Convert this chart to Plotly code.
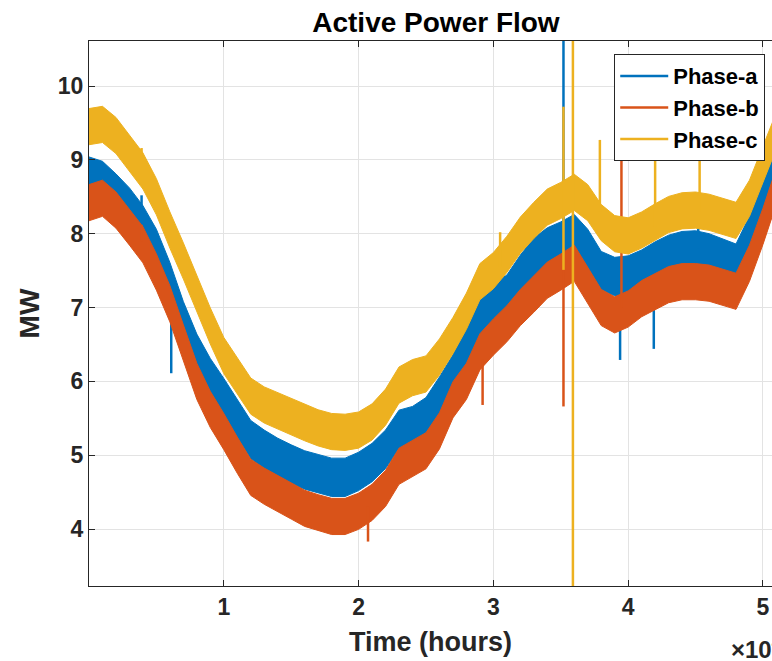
import plotly.graph_objects as go

# ---------------- data ----------------
time_grid = [0.0, 0.1, 0.2, 0.3, 0.4, 0.5, 0.6, 0.7, 0.8, 0.9,
             1.0, 1.1, 1.2, 1.3, 1.4, 1.5, 1.6, 1.7, 1.8, 1.9,
             2.0, 2.1, 2.2, 2.3, 2.4, 2.5, 2.6, 2.7, 2.8, 2.9,
             3.0, 3.1, 3.2, 3.3, 3.4, 3.5, 3.6, 3.7, 3.8, 3.9,
             4.0, 4.1, 4.2, 4.3, 4.4, 4.5, 4.6, 4.7, 4.8, 4.9,
             5.0, 5.1]

phase_a = [8.78, 8.72, 8.55, 8.36, 8.12, 7.80, 7.35, 6.82, 6.38, 6.05,
           5.78, 5.50, 5.21, 5.08, 4.97, 4.88, 4.80, 4.75, 4.70, 4.70,
           4.78, 4.90, 5.08, 5.35, 5.40, 5.52, 5.80, 6.10, 6.50, 6.88,
           7.06, 7.18, 7.45, 7.68, 7.82, 7.90, 8.00, 7.80, 7.50, 7.42,
           7.44, 7.52, 7.63, 7.72, 7.77, 7.78, 7.74, 7.67, 7.60, 7.98,
           8.55, 9.10]

phase_b = [8.42, 8.48, 8.32, 8.09, 7.85, 7.48, 7.05, 6.52, 6.00, 5.62,
           5.32, 5.00, 4.70, 4.58, 4.48, 4.38, 4.28, 4.22, 4.17, 4.17,
           4.24, 4.36, 4.55, 4.85, 4.95, 5.06, 5.33, 5.75, 6.00, 6.40,
           6.60, 6.78, 7.00, 7.18, 7.37, 7.48, 7.60, 7.30, 7.00, 6.90,
           6.98, 7.12, 7.22, 7.31, 7.35, 7.35, 7.33, 7.27, 7.22, 7.60,
           8.10, 8.65]

phase_c = [9.45, 9.48, 9.33, 9.09, 8.85, 8.50, 8.05, 7.63, 7.20, 6.75,
           6.35, 6.07, 5.80, 5.68, 5.60, 5.52, 5.44, 5.37, 5.32, 5.31,
           5.34, 5.45, 5.65, 5.95, 6.05, 6.10, 6.33, 6.62, 6.95, 7.35,
           7.50, 7.72, 7.98, 8.18, 8.36, 8.45, 8.56, 8.42, 8.15, 8.00,
           7.97, 8.05, 8.16, 8.26, 8.31, 8.32, 8.29, 8.23, 8.18, 8.48,
           8.95, 9.40]

# half-range of the measurement noise around each trace (MW)
noise_a = 0.26
noise_b = 0.245
noise_c = 0.245

# isolated spikes: time, start value, end value
spikes_a_t = [0.39, 0.61, 3.52, 3.94, 4.19, 4.52]
spikes_a_from = [8.30, 7.00, 8.00, 7.30, 7.50, 7.80]
spikes_a_to = [8.52, 6.11, 10.90, 6.29, 6.44, 8.45]

spikes_b_t = [0.39, 2.07, 2.92, 3.52, 3.95]
spikes_b_from = [7.90, 4.30, 6.30, 7.80, 7.00]
spikes_b_to = [8.12, 3.83, 5.68, 5.66, 9.70]

spikes_c_t = [0.39, 3.05, 3.52, 3.59, 3.79, 4.20, 4.53]
spikes_c_from = [9.00, 7.55, 7.51, 2.00, 8.30, 8.10, 8.30]
spikes_c_to = [9.16, 8.02, 9.72, 11.50, 9.27, 9.60, 9.60]

series_names = ["Phase-a", "Phase-b", "Phase-c"]
colors = ["#0072BD", "#D95319", "#EDB120"]
xtick_vals = [1, 2, 3, 4, 5]
ytick_vals = [4, 5, 6, 7, 8, 9, 10]

FONT = "Liberation Sans, Arial, Helvetica, sans-serif"
INK = "#262626"

fig = go.Figure()

series = [
    (phase_a, noise_a, spikes_a_t, spikes_a_from, spikes_a_to),
    (phase_b, noise_b, spikes_b_t, spikes_b_from, spikes_b_to),
    (phase_c, noise_c, spikes_c_t, spikes_c_from, spikes_c_to),
]

for (vals, nz, st, sf, sto), name, col in zip(series, series_names, colors):
    hi = [v + nz for v in vals]
    lo = [v - nz for v in vals]
    fig.add_trace(go.Scatter(
        x=time_grid + time_grid[::-1],
        y=hi + lo[::-1],
        fill="toself", fillcolor=col,
        mode="lines", line=dict(color=col, width=1),
        showlegend=False, hoverinfo="skip",
    ))
    sx, sy = [], []
    for t, a, b in zip(st, sf, sto):
        sx += [t, t, None]
        sy += [a, b, None]
    fig.add_trace(go.Scatter(
        x=sx, y=sy, mode="lines", name=name,
        line=dict(color=col, width=2.5),
    ))

axis_common = dict(
    showgrid=True, gridcolor="#e3e3e3", gridwidth=1,
    showline=True, linecolor=INK, linewidth=1,
    ticks="inside", ticklen=6, tickcolor=INK, tickwidth=1,
    zeroline=False,
    tickfont=dict(family=FONT, size=23, color=INK, weight="bold"),
)

fig.update_xaxes(
    range=[0, 5.067], tickvals=xtick_vals, ticktext=[str(v) for v in xtick_vals],
    mirror="ticks",
    title=dict(text="Time (hours)", font=dict(family=FONT, size=27, color=INK, weight="bold"), standoff=13),
    **axis_common,
)
fig.update_yaxes(
    range=[3.228, 10.61], tickvals=ytick_vals, ticktext=[str(v) for v in ytick_vals],
    mirror=False,
    title=dict(text="MW", font=dict(family=FONT, size=28, color=INK, weight="bold"), standoff=10),
    **axis_common,
)

fig.update_layout(
    width=772, height=661,
    margin=dict(l=89, r=0, t=41, b=75),
    paper_bgcolor="white", plot_bgcolor="white",
    title=dict(text="Active Power Flow", x=0.508, xref="paper", xanchor="center",
               y=1 - 22 / 661, yref="container", yanchor="middle",
               font=dict(family=FONT, size=28, color="black", weight="bold")),
    legend=dict(x=0.769, y=0.976, xanchor="left", yanchor="top",
                bgcolor="white", bordercolor=INK, borderwidth=1,
                font=dict(family=FONT, size=22, color="black", weight="bold"),
                itemwidth=48, tracegroupgap=0),
    showlegend=True,
    annotations=[dict(text="×10<sup>4</sup>", xref="paper", yref="paper",
                      x=(729 - 89) / 683, y=(586 - 648) / 545,
                      xanchor="left", yanchor="middle", showarrow=False,
                      font=dict(family=FONT, size=24, color=INK, weight="bold"))],
)

fig.write_html("out.html")
